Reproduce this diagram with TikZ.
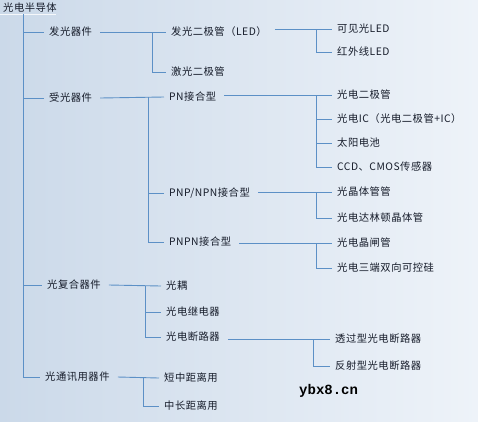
\documentclass[tikz,border=0pt]{standalone}
\usepackage{fontspec}
\setmainfont[LetterSpace=5]{Noto Sans CJK SC}
\newfontfamily\wmfont{Liberation Mono}
\definecolor{bgL}{RGB}{203,217,233}
\definecolor{bgR}{RGB}{238,243,249}
\definecolor{txt}{RGB}{22,28,42}
\definecolor{ln}{RGB}{92,144,198}
\begin{document}
\begin{tikzpicture}[x=1pt,y={(0,-1pt)},
  lbl/.style={anchor=west,inner xsep=5pt,inner ysep=2pt,text=txt,font=\fontsize{10.3}{12}\selectfont},
  conn/.style={draw=ln,line width=0.9pt}]
\useasboundingbox (0,0) rectangle (478,421);
\shade[left color=bgL,right color=bgR] (0,0) rectangle (478,421);
% root
\node[lbl,inner xsep=1pt] (root) at (2,8) {光电半导体};
\draw[white,line width=0.8pt,opacity=0.8] (0,14) -- (56,14);
% level 1
\node[lbl] (l1a) at (44,32) {发光器件};
\node[lbl] (l1b) at (44,98) {受光器件};
\node[lbl] (l1c) at (42,285) {光复合器件};
\node[lbl] (l1d) at (40,377) {光通讯用器件};
\coordinate (t0) at (23,14);
\draw[conn] (t0) |- (l1d.west);
\draw[conn] (t0) |- (l1a.west);
\draw[conn] (t0) |- (l1b.west);
\draw[conn] (t0) |- (l1c.west);
% level 2
\node[lbl] (a1) at (166,32) {发光二极管（LED）};
\node[lbl] (a2) at (166,72) {激光二极管};
\coordinate (ja) at (152,32);
\draw[conn] ([xshift=3pt]l1a.east) -- (a1.west);
\draw[conn] (ja) |- (a2.west);

\node[lbl] (b1) at (164,97) {PN接合型};
\node[lbl] (b2) at (164,193) {PNP/NPN接合型};
\node[lbl] (b3) at (164,242) {PNPN接合型};
\coordinate (jb) at (148,97);
\draw[conn] ([xshift=3pt]l1b.east) -- (b1.west);
\draw[conn] (jb) |- (b2.west);
\draw[conn] (jb) |- (b3.west);

\node[lbl] (c1) at (161,286) {光耦};
\node[lbl] (c2) at (161,312) {光电继电器};
\node[lbl] (c3) at (161,337) {光电断路器};
\coordinate (jc) at (145,286);
\draw[conn] ([xshift=3pt]l1c.east) -- (c1.west);
\draw[conn] (jc) |- (c2.west);
\draw[conn] (jc) |- (c3.west);

\node[lbl] (d1) at (159,378) {短中距离用};
\node[lbl] (d2) at (159,406) {中长距离用};
\coordinate (jd) at (143,378);
\draw[conn] ([xshift=3pt]l1d.east) -- (d1.west);
\draw[conn] (jd) |- (d2.west);

% level 3
\node[lbl] (e1) at (332,29) {可见光LED};
\node[lbl] (e2) at (332,52) {红外线LED};
\coordinate (je) at (316,29);
\draw[conn] ([xshift=3pt]a1.east |- e1.west) -- (e1.west);
\draw[conn] (je) |- (e2.west);

\node[lbl] (f1) at (332,95) {光电二极管};
\node[lbl] (f2) at (332,119) {光电IC（光电二极管+IC）};
\node[lbl] (f3) at (332,143) {太阳电池};
\node[lbl] (f4) at (332,167) {CCD、CMOS传感器};
\coordinate (jf) at (316,95);
\draw[conn] ([xshift=3pt]b1.east |- f1.west) -- (f1.west);
\draw[conn] (jf) |- (f2.west);
\draw[conn] (jf) |- (f3.west);
\draw[conn] (jf) |- (f4.west);

\node[lbl] (g1) at (332,192) {光晶体管管};
\node[lbl] (g2) at (332,218) {光电达林顿晶体管};
\coordinate (jg) at (316,192);
\draw[conn] ([xshift=3pt]b2.east |- g1.west) -- (g1.west);
\draw[conn] (jg) |- (g2.west);

\node[lbl] (h1) at (332,243) {光电晶闸管};
\node[lbl] (h2) at (332,268) {光电三端双向可控硅};
\coordinate (jh) at (316,243);
\draw[conn] ([xshift=3pt]b3.east |- h1.west) -- (h1.west);
\draw[conn] (jh) |- (h2.west);

\node[lbl] (i1) at (330,339) {透过型光电断路器};
\node[lbl] (i2) at (330,366) {反射型光电断路器};
\coordinate (ji) at (313,339);
\draw[conn] ([xshift=3pt]c3.east |- i1.west) -- (i1.west);
\draw[conn] (ji) |- (i2.west);

% watermark
\node[anchor=west,inner sep=0pt,font=\wmfont\fontsize{14}{15}\selectfont\bfseries] (wm) at (299,391) {ybx8.cn};
\end{tikzpicture}
\end{document}
